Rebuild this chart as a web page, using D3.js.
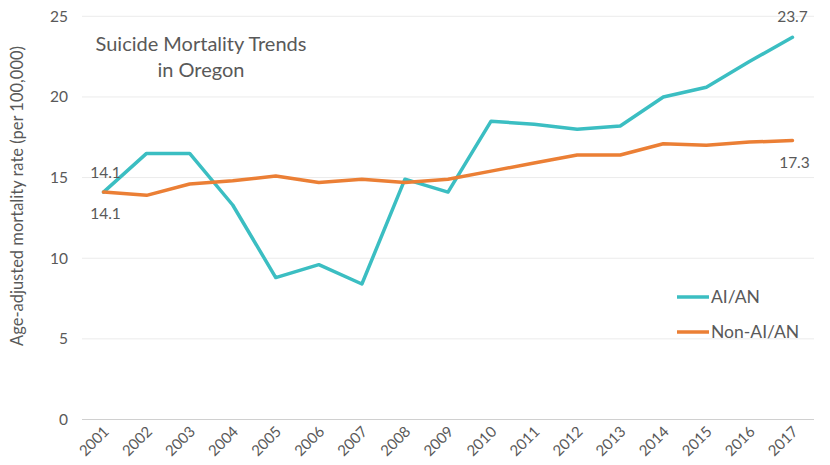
<!DOCTYPE html>
<html><head><meta charset="utf-8">
<script src="https://cdn.jsdelivr.net/npm/d3@7"></script>
<style>
body{margin:0;background:#fff;}
text{font-family:"Lato","Open Sans",sans-serif;fill:#595959;}
</style></head>
<body><svg id="c" width="830" height="465"></svg>
<script>
const years = ["2001","2002","2003","2004","2005","2006","2007","2008","2009","2010","2011","2012","2013","2014","2015","2016","2017"];
const aian = [14.1,16.5,16.5,13.3,8.8,9.6,8.4,14.9,14.1,18.5,18.3,18.0,18.2,20.0,20.6,22.2,23.7];
const nonAian = [14.1,13.9,14.6,14.8,15.1,14.7,14.9,14.7,14.9,15.4,15.9,16.4,16.4,17.1,17.0,17.2,17.3];
const yTicks = [0,5,10,15,20,25];
const seriesNames = ["AI/AN","Non-AI/AN"];
const colors = ["#3BBEC2","#EB7F35"];

const svg = d3.select("#c");
const L=82, R=814, T=16.3, B=419.5;
const x = d3.scalePoint().domain(years).range([L,R]).padding(0.5);
const y = d3.scaleLinear().domain([0,25]).range([B,T]);

// gridlines
svg.append("g").selectAll("line").data(yTicks).join("line")
  .attr("x1",L).attr("x2",R).attr("y1",d=>y(d)).attr("y2",d=>y(d))
  .attr("stroke",d=>d===0?"#d0d0d0":"#ebebeb").attr("stroke-width",1);

// y axis labels
const yAxis = d3.axisLeft(y).tickValues(yTicks).tickSize(0).tickPadding(0);
const gy = svg.append("g").attr("transform",`translate(${L-14},0)`).call(yAxis);
gy.select(".domain").remove();
gy.selectAll("text").style("font-size","15.5px").attr("fill","#595959").style("font-family","Lato, sans-serif");

// x axis labels
const xAxis = d3.axisBottom(x).tickSize(0).tickPadding(0);
const gx = svg.append("g").attr("transform",`translate(0,${B})`).call(xAxis);
gx.select(".domain").remove();
gx.selectAll("text").style("font-size","15px").attr("fill","#595959").style("font-family","Lato, sans-serif")
  .attr("text-anchor","end").attr("dy",null).attr("y",0)
  .attr("transform","translate(6,13) rotate(-45)");

// y title
svg.append("text").attr("transform","translate(23,196) rotate(-90)")
  .attr("text-anchor","middle").style("font-size","16.5px").text("Age-adjusted mortality rate (per 100,000)");

// title
const title = svg.append("text").attr("text-anchor","middle").style("font-size","20px");
title.append("tspan").attr("x",201).attr("y",51).text("Suicide Mortality Trends");
title.append("tspan").attr("x",201).attr("y",77).text("in Oregon");

// lines
const line = d3.line().x((d,i)=>x(years[i])).y(d=>y(d));
[aian,nonAian].forEach((s,k)=>{
  svg.append("path").datum(s).attr("d",line).attr("fill","none")
    .attr("stroke",colors[k]).attr("stroke-width",3.5).attr("stroke-linejoin","round").attr("stroke-linecap","round");
});

// data labels
const lab = (t,xx,yy)=>svg.append("text").attr("x",xx).attr("y",yy).attr("text-anchor","middle").style("font-size","15.5px").text(t);
lab(aian[0].toFixed(1), x(years[0])+2, y(aian[0])-14);
lab(nonAian[0].toFixed(1), x(years[0])+2, y(nonAian[0])+27);
lab(aian[16].toFixed(1), x(years[16])+0, y(aian[16])-15);
lab(nonAian[16].toFixed(1), x(years[16])+2, y(nonAian[16])+28);

// legend
seriesNames.forEach((n,k)=>{
  const ly = 297 + k*35;
  svg.append("line").attr("x1",677).attr("x2",709).attr("y1",ly).attr("y2",ly)
    .attr("stroke",colors[k]).attr("stroke-width",3.5);
  svg.append("text").attr("x",711).attr("y",ly+6).style("font-size",'17.5px').text(n);
});
</script></body></html>
